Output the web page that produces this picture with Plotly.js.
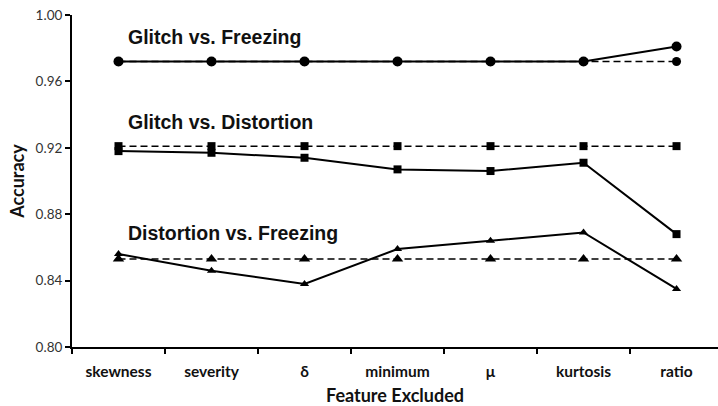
<!DOCTYPE html>
<html>
<head>
<meta charset="utf-8">
<script src="https://cdn.plot.ly/plotly-3.0.1.min.js"></script>
<style>html,body{margin:0;padding:0;background:#fff;}#chart{width:718px;height:406px;}</style>
</head>
<body>
<div id="chart"></div>
<script>
const features = ["skewness", "severity", "δ", "minimum", "μ", "kurtosis", "ratio"];
const gfBaseline = [0.972, 0.972, 0.972, 0.972, 0.972, 0.972, 0.972];
const gfExcluded = [0.972, 0.972, 0.972, 0.972, 0.972, 0.972, 0.981];
const gdBaseline = [0.921, 0.921, 0.921, 0.921, 0.921, 0.921, 0.921];
const gdExcluded = [0.918, 0.917, 0.914, 0.907, 0.906, 0.911, 0.868];
const dfBaseline = [0.853, 0.853, 0.853, 0.853, 0.853, 0.853, 0.853];
const dfExcluded = [0.856, 0.846, 0.838, 0.859, 0.864, 0.869, 0.835];
const groupNames = ["Glitch vs. Freezing", "Glitch vs. Distortion", "Distortion vs. Freezing"];
const labelY = [0.987, 0.9355, 0.8687];
const yTicks = [0.80, 0.84, 0.88, 0.92, 0.96, 1.00];

function tr(y, sym, size, dash, width) {
  return {
    x: features, y: y, type: "scatter", mode: "lines+markers",
    line: {color: "#000", width: width, dash: dash},
    marker: {symbol: sym, size: size, color: "#000"},
    showlegend: false, hoverinfo: "skip"
  };
}
const data = [
  tr(gfBaseline, "circle", 9, "7px,4px", 1.5),
  tr(gdBaseline, "square", 8, "7px,4px", 1.5),
  tr(dfBaseline, "triangle-up", 10, "7px,4px", 1.5),
  tr(gfExcluded, "circle", 10, "solid", 2),
  tr(gdExcluded, "square", 8, "solid", 2),
  tr(dfExcluded, "triangle-up", 8, "solid", 2)
];

const annotations = groupNames.map((t, i) => ({
  text: "<b>" + t + "</b>", x: 0.08, y: labelY[i], xref: "x", yref: "y",
  xanchor: "left", yanchor: "middle", showarrow: false,
  font: {family: "Liberation Sans, Arial, sans-serif", size: 19.5, color: "#111"}
}));

const layout = {
  width: 718, height: 406,
  margin: {l: 72, r: 0, t: 15, b: 59},
  paper_bgcolor: "#fff", plot_bgcolor: "#fff",
  showlegend: false,
  xaxis: {
    type: "category", range: [-0.5, 6.446],
    showline: true, linecolor: "#000", linewidth: 2,
    ticks: "outside", tickson: "boundaries", ticklen: 5, tickwidth: 2, tickcolor: "#000",
    ticklabelstandoff: 9,
    showgrid: false, zeroline: false,
    tickfont: {family: "Lato, Open Sans, sans-serif", size: 15.5, color: "#111", weight: "bold"},
    title: {text: "<b>Feature Excluded</b>", font: {family: "Lato, Open Sans, sans-serif", size: 18, color: "#111"}, standoff: 12}
  },
  yaxis: {
    range: [0.80, 1.00], tickvals: yTicks, tickformat: ".2f",
    showline: true, linecolor: "#000", linewidth: 2,
    ticks: "outside", ticklen: 5, tickwidth: 2, tickcolor: "#000",
    showgrid: false, zeroline: false,
    tickfont: {family: "Lato, Open Sans, sans-serif", size: 13.5, color: "#333"},
    title: {text: "<b>Accuracy</b>", font: {family: "Lato, Open Sans, sans-serif", size: 18, color: "#111"}, standoff: 6}
  },
  annotations: annotations
};
Plotly.newPlot("chart", data, layout, {staticPlot: true, displayModeBar: false});
</script>
</body>
</html>
